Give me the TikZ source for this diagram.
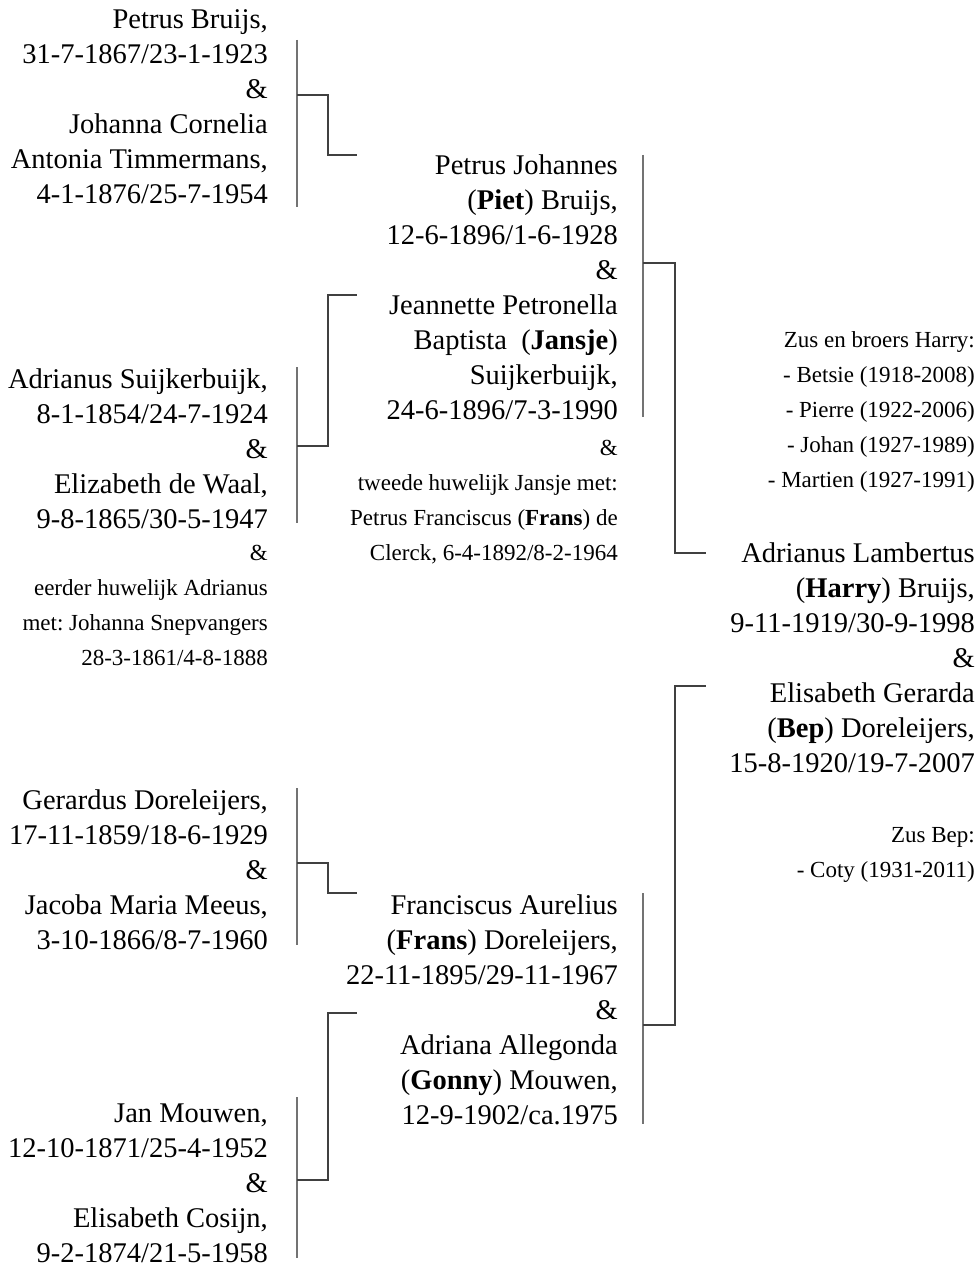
\documentclass[tikz,border=0pt]{standalone}
\usepackage{fontspec}
\setmainfont{Liberation Serif}
\frenchspacing
\tikzset{
  main/.style={anchor=north east, inner sep=0pt, align=right, font=\fontsize{28.5}{35}\selectfont},
  small/.style={anchor=north east, inner sep=0pt, align=right, font=\fontsize{23}{35}\selectfont},
  conn/.style={draw=black!55, line width=1.3pt},
  elbow/.style={draw=black!75, line width=1.2pt}
}
\begin{document}
\begin{tikzpicture}[x=1pt,y=-1pt]
\useasboundingbox[fill=white] (0,0) rectangle (978,1268);
% column 1
\node[main] (pb) at (268,3.5) {\strut Petrus Bruijs,\\31-7-1867/23-1-1923\\\&\\Johanna Cornelia\\Antonia Timmermans,\\4-1-1876/25-7-1954};
\node[main] (as) at (268,363.5) {\strut Adrianus Suijkerbuijk,\\8-1-1854/24-7-1924\\\&\\Elizabeth de Waal,\\9-8-1865/30-5-1947};
\node[small] (asx) at (268,535.5) {\strut\&\\eerder huwelijk Adrianus\\met: Johanna Snepvangers\\28-3-1861/4-8-1888};
\node[main] (gd) at (268,784.5) {\strut Gerardus Doreleijers,\\17-11-1859/18-6-1929\\\&\\Jacoba Maria Meeus,\\3-10-1866/8-7-1960};
\node[main] (jm) at (268,1097.5) {\strut Jan Mouwen,\\12-10-1871/25-4-1952\\\&\\Elisabeth Cosijn,\\9-2-1874/21-5-1958};
% column 2
\node[main] (pj) at (618,149.5) {\strut Petrus Johannes\\(\textbf{Piet}) Bruijs,\\12-6-1896/1-6-1928\\\&\\Jeannette Petronella\\Baptista\ \ (\textbf{Jansje})\\Suijkerbuijk,\\24-6-1896/7-3-1990};
\node[small] (pjx) at (618,430.5) {\strut\&\\tweede huwelijk Jansje met:\\Petrus Franciscus (\textbf{Frans}) de\\Clerck, 6-4-1892/8-2-1964};
\node[main] (fa) at (618,889.5) {\strut Franciscus Aurelius\\(\textbf{Frans}) Doreleijers,\\22-11-1895/29-11-1967\\\&\\Adriana Allegonda\\(\textbf{Gonny}) Mouwen,\\12-9-1902/ca.1975};
% column 3
\node[small] (zh) at (975,322.5) {\strut Zus en broers Harry:\\- Betsie (1918-2008)\\- Pierre (1922-2006)\\- Johan (1927-1989)\\- Martien (1927-1991)};
\node[main] (al) at (975,537.5) {\strut Adrianus Lambertus\\(\textbf{Harry}) Bruijs,\\9-11-1919/30-9-1998\\\&\\Elisabeth Gerarda\\(\textbf{Bep}) Doreleijers,\\15-8-1920/19-7-2007};
\node[small] (zb) at (975,817.5) {\strut Zus Bep:\\- Coty (1931-2011)};
% connector coordinates
\coordinate (a1) at (297,40);   \coordinate (a2) at (297,207);
\coordinate (a3) at (297,95);   \coordinate (a4) at (328,95);
\coordinate (a5) at (328,155);  \coordinate (a6) at (357,155);
\coordinate (c1) at (297,367);  \coordinate (c2) at (297,523);
\coordinate (c3) at (297,446);  \coordinate (c4) at (328,446);
\coordinate (c5) at (328,295);  \coordinate (c6) at (357,295);
\coordinate (b1) at (643,155);  \coordinate (b2) at (643,417);
\coordinate (b3) at (643,263);  \coordinate (b4) at (675,263);
\coordinate (b5) at (675,553);  \coordinate (b6) at (706,553);
\coordinate (e1) at (297,788);  \coordinate (e2) at (297,945);
\coordinate (e3) at (297,863);  \coordinate (e4) at (328,863);
\coordinate (e5) at (328,893);  \coordinate (e6) at (357,893);
\coordinate (g1) at (297,1097); \coordinate (g2) at (297,1258);
\coordinate (g3) at (297,1180); \coordinate (g4) at (328,1180);
\coordinate (g5) at (328,1013); \coordinate (g6) at (357,1013);
\coordinate (f1) at (643,893);  \coordinate (f2) at (643,1124);
\coordinate (f3) at (643,1025); \coordinate (f4) at (675,1025);
\coordinate (f5) at (675,686);  \coordinate (f6) at (706,686);
% connectors
\foreach \p in {a,c,e,g,b,f}{
  \draw[conn] (\p1) -- (\p2);
  \draw[elbow] (\p3) -- (\p4) -- (\p5) -- (\p6);
}
\end{tikzpicture}
\end{document}
